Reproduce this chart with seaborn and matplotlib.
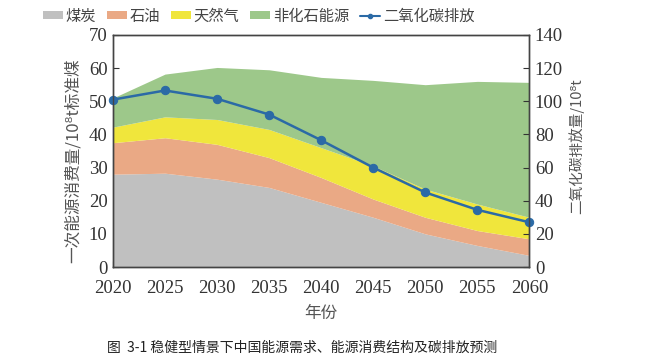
import numpy as np
import pandas as pd
import matplotlib
matplotlib.use("Agg")
import matplotlib.pyplot as plt
import seaborn as sns
from matplotlib.patches import Patch
from matplotlib.lines import Line2D

sns.set_style("ticks")
plt.rcParams["font.family"] = ["Noto Sans CJK SC", "DejaVu Sans"]

# 数据
years = [2020, 2025, 2030, 2035, 2040, 2045, 2050, 2055, 2060]
coal = [28.0, 28.3, 26.5, 24.0, 19.5, 15.0, 10.0, 6.5, 3.5]
oil = [9.5, 10.7, 10.5, 9.0, 7.5, 5.5, 5.0, 4.5, 5.0]
gas = [4.7, 6.3, 7.5, 8.5, 9.0, 10.0, 8.5, 8.0, 6.5]
non_fossil = [8.8, 12.9, 15.7, 18.0, 21.2, 25.8, 31.5, 37.0, 40.7]
co2 = [101, 106.5, 101.5, 92, 76.5, 60, 45, 34.5, 27]

labels = ["煤炭", "石油", "天然气", "非化石能源", "二氧化碳排放"]
colors = ["#c0c0c0", "#eaa985", "#f0e63c", "#9dc88a"]
line_color = "#2b6aa6"
num_font = "Liberation Serif"

fig = plt.figure(figsize=(6.63, 3.62), dpi=100)
ax = fig.add_axes([0.1704, 0.2624, 0.628, 0.641])

ax.stackplot(years, coal, oil, gas, non_fossil, colors=colors, linewidth=0)
ax.set_xlim(2020, 2060)
ax.set_ylim(0, 70)
ax.set_xticks(years)
ax.set_yticks(range(0, 71, 10))

ax2 = ax.twinx()
df = pd.DataFrame({"year": years, "co2": co2})
sns.lineplot(data=df, x="year", y="co2", ax=ax2, color=line_color, marker="o",
             markersize=6, markeredgecolor=line_color, linewidth=1.8, clip_on=False)
ax2.set_ylim(0, 140)
ax2.set_yticks(range(0, 141, 20))
ax2.set_xlim(2020, 2060)
ax2.set_ylabel("")
ax2.set_xlabel("")

for a in (ax, ax2):
    a.tick_params(direction="in", length=4, width=0.8, labelsize=13.5, colors="#333333")
    a.tick_params(axis="x", pad=9)
    a.tick_params(axis="y", pad=4)
    for lab in a.get_xticklabels() + a.get_yticklabels():
        lab.set_family(num_font)
    for s in a.spines.values():
        s.set_color("#444444")
        s.set_linewidth(1.0)

ax.set_xlabel("年份", fontsize=12, color="#555555", labelpad=6)
ax.set_ylabel("一次能源消费量/10⁸t标准煤", fontsize=12, color="#555555")
ax.yaxis.set_label_coords(-0.075, 0.46)
ax2.set_ylabel("二氧化碳排放量/10⁸t", fontsize=10.5, color="#555555")
ax2.yaxis.set_label_coords(1.095, 0.52)

handles = [Patch(facecolor=c, edgecolor="none") for c in colors]
handles.append(Line2D([0], [0], color=line_color, marker="o", markersize=3, linewidth=1.5))
fig.legend(handles, labels, loc="center", bbox_to_anchor=(0.39, 0.955), ncol=5,
           frameon=False, fontsize=11, handlelength=1.3, handleheight=0.45,
           handletextpad=0.2, columnspacing=0.7, labelcolor="#444444")

fig.text(0.161, 0.04, "图  3-1 稳健型情景下中国能源需求、能源消费结构及碳排放预测",
         fontsize=10, color="#222222", ha="left", va="center")

fig.savefig("out.png", dpi=100)
